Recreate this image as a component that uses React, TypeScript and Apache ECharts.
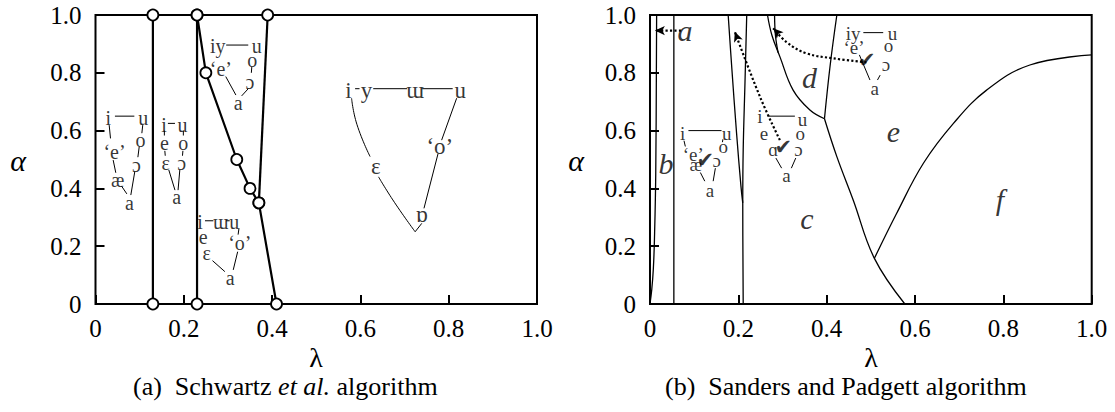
import React, { useEffect, useRef } from 'react';
import * as echarts from 'echarts';

const FONT = 'Liberation Serif';
const TICK_LABELS = ['0', '0.2', '0.4', '0.6', '0.8', '1.0'];

type Pt = [number, number];
type Lbl = [number, number, string];

// ---------- Panel (a): Schwartz et al. ----------
const A_BOUND_1: Pt[] = [[0.13, 0], [0.13, 1]];
const A_BOUND_2: Pt[] = [[0.23, 0], [0.23, 1]];
const A_BOUND_3: Pt[] = [[0.23, 1], [0.25, 0.8], [0.32, 0.5], [0.35, 0.4], [0.37, 0.35], [0.41, 0]];
const A_BOUND_4: Pt[] = [[0.39, 1], [0.37, 0.35]];

const A_VOWELS_1: Lbl[] = [[0.029, 0.642, 'i'], [0.108, 0.642, 'u'], [0.043, 0.527, '‘e’'], [0.102, 0.567, 'o'], [0.093, 0.481, 'ɔ'], [0.050, 0.429, 'æ'], [0.077, 0.348, 'a']];
const A_SEGS_1: Pt[][] = [
  [[0.044, 0.650], [0.088, 0.650]], [[0.031, 0.619], [0.034, 0.573]], [[0.040, 0.498], [0.046, 0.454]],
  [[0.059, 0.408], [0.071, 0.381]], [[0.107, 0.619], [0.105, 0.591]], [[0.099, 0.544], [0.096, 0.508]],
  [[0.089, 0.458], [0.080, 0.377]],
];
const A_VOWELS_2: Lbl[] = [[0.155, 0.619, 'i'], [0.197, 0.619, 'u'], [0.156, 0.556, 'e'], [0.199, 0.556, 'o'], [0.159, 0.487, 'ε'], [0.195, 0.487, 'ɔ'], [0.184, 0.371, 'a']];
const A_SEGS_2: Pt[][] = [
  [[0.164, 0.625], [0.180, 0.625]], [[0.156, 0.600], [0.156, 0.583]], [[0.199, 0.600], [0.199, 0.583]],
  [[0.157, 0.530], [0.158, 0.513]], [[0.198, 0.530], [0.197, 0.513]],
  [[0.166, 0.464], [0.180, 0.394]], [[0.191, 0.464], [0.187, 0.394]],
];
const A_VOWELS_3: Lbl[] = [[0.277, 0.894, 'iy'], [0.365, 0.894, 'u'], [0.284, 0.813, '‘e’'], [0.355, 0.844, 'o'], [0.350, 0.769, 'ɔ'], [0.323, 0.694, 'a']];
const A_SEGS_3: Pt[][] = [
  [[0.296, 0.896], [0.346, 0.896]], [[0.295, 0.787], [0.318, 0.723]], [[0.354, 0.82], [0.353, 0.80]],
  [[0.346, 0.745], [0.331, 0.72]],
];
const A_VOWELS_4: Lbl[] = [[0.237, 0.285, 'i'], [0.284, 0.285, 'ɯ'], [0.314, 0.285, 'u'], [0.244, 0.233, 'e'], [0.327, 0.210, '‘o’'], [0.252, 0.175, 'ε'], [0.305, 0.089, 'a']];
const A_SEGS_4: Pt[][] = [
  [[0.248, 0.288], [0.267, 0.288]], [[0.296, 0.288], [0.304, 0.288]], [[0.265, 0.150], [0.293, 0.112]],
  [[0.322, 0.181], [0.312, 0.118]], [[0.325, 0.262], [0.323, 0.24]],
];
const A_VOWELS_5: Lbl[] = [[0.573, 0.740, 'i'], [0.614, 0.740, 'y'], [0.724, 0.740, 'ɯ'], [0.826, 0.740, 'u'], [0.780, 0.544, '‘o’'], [0.635, 0.475, 'ε'], [0.739, 0.308, 'ɒ']];
const A_SEGS_5: Pt[][] = [
  [[0.588, 0.745], [0.598, 0.745]], [[0.629, 0.745], [0.706, 0.745]], [[0.740, 0.745], [0.809, 0.745]],
  [[0.744, 0.331], [0.776, 0.521]], [[0.784, 0.567], [0.818, 0.712]], [[0.724, 0.250], [0.739, 0.279]],
];
const A_CURVES_5: Pt[][] = [
  [[0.580, 0.712], [0.592, 0.622], [0.622, 0.510]],
  [[0.641, 0.440], [0.677, 0.352], [0.724, 0.250]],
];

// ---------- Panel (b): Sanders and Padgett ----------
const B_BOUNDS: Pt[][] = [
  [[0, 0], [0.004, 0.05], [0.0075, 0.12], [0.01, 0.22], [0.013, 0.45], [0.015, 1.0]],
  [[0.054, 0], [0.054, 1]],
  [[0.177, 1], [0.185, 0.821], [0.196, 0.591], [0.206, 0.406], [0.21, 0.35]],
  [[0.219, 1], [0.215, 0.764], [0.211, 0.533], [0.21, 0.35], [0.211, 0]],
  [[0.266, 1], [0.276, 0.93], [0.294, 0.856], [0.324, 0.74], [0.362, 0.671], [0.395, 0.641]],
  [[0.282, 1], [0.284, 0.93], [0.29, 0.87]],
  [[0.423, 1], [0.4075, 0.821], [0.395, 0.641]],
  [[0.395, 0.641], [0.423, 0.51], [0.46, 0.36], [0.508, 0.158], [0.577, 0]],
  [[0.508, 0.158], [0.5585, 0.314], [0.619, 0.487], [0.687, 0.625], [0.762, 0.740], [0.86, 0.827], [1.0, 0.862]],
];
const B_REGIONS: Lbl[] = [[0.079, 0.946, 'a'], [0.036, 0.487, 'b'], [0.355, 0.296, 'c'], [0.361, 0.784, 'd'], [0.551, 0.596, 'e'], [0.792, 0.36, 'f']];

const B_VOWELS: Lbl[] = [
  [0.074, 0.591, 'i'], [0.174, 0.591, 'u'], [0.098, 0.516, '‘e’'], [0.166, 0.544, 'o'], [0.151, 0.498, 'ɔ'], [0.104, 0.481, 'æ'], [0.136, 0.394, 'a'],
  [0.249, 0.648, 'i'], [0.345, 0.640, 'u'], [0.258, 0.591, 'e'], [0.340, 0.591, 'o'], [0.279, 0.533, 'ɑ'], [0.336, 0.533, 'ɔ'], [0.309, 0.446, 'a'],
  [0.46, 0.937, 'iy'], [0.549, 0.937, 'u'], [0.462, 0.888, '‘e’'], [0.54, 0.893, 'o'], [0.534, 0.830, 'ɔ'], [0.509, 0.746, 'a'],
];
const B_SEGS: Pt[][] = [
  [[0.087, 0.600], [0.162, 0.600]], [[0.077, 0.565], [0.08, 0.545]], [[0.114, 0.455], [0.124, 0.425]],
  [[0.148, 0.47], [0.143, 0.425]], [[0.165, 0.57], [0.164, 0.56]],
  [[0.268, 0.650], [0.328, 0.650]], [[0.285, 0.505], [0.298, 0.47]], [[0.33, 0.505], [0.32, 0.47]],
  [[0.483, 0.939], [0.528, 0.939]], [[0.474, 0.862], [0.498, 0.775]], [[0.521, 0.792], [0.515, 0.775]],
];
const B_CHECKS: Pt[] = [[0.125, 0.498], [0.302, 0.544], [0.491, 0.844]];
// dotted arrows: path points, the last point carries the head
const B_ARROW_PATHS: Pt[][] = [
  [[0.07, 0.946], [0.011, 0.946]],
  [[0.294, 0.567], [0.249, 0.717], [0.192, 0.942]],
  [[0.49, 0.836], [0.415, 0.850], [0.355, 0.867], [0.31, 0.905], [0.279, 0.954]],
];

function lineSeries(pts: Pt[], g: number, width: number, smooth: boolean | number = false, extra: any = {}) {
  return {
    type: 'line', xAxisIndex: g, yAxisIndex: g, data: pts, showSymbol: false, smooth,
    lineStyle: { color: '#000', width }, silent: true, z: 2, ...extra,
  };
}
function textSeries(items: Lbl[], g: number, size: number, italic = false, family = FONT) {
  return {
    type: 'scatter', xAxisIndex: g, yAxisIndex: g, symbolSize: 0, silent: true, z: 4,
    data: items.map(([x, y, t]) => ({ value: [x, y], name: t })),
    label: {
      show: true, position: 'inside', formatter: '{b}', color: '#000',
      fontFamily: family, fontSize: size, fontStyle: italic ? 'italic' : 'normal',
    },
  };
}

export default function App() {
  const ref = useRef<HTMLDivElement>(null);
  useEffect(() => {
    const chart = echarts.init(ref.current!, undefined, { renderer: 'svg' });
    const axisCommon = {
      type: 'value', min: 0, max: 1, interval: 0.2,
      splitLine: { show: false },
      axisLine: { show: false },
      axisTick: { show: true, inside: true, length: 9, lineStyle: { color: '#000', width: 2 } },
    };
    const fmt = (v: number) => TICK_LABELS[Math.round(v * 5)];
    const xLabel = { color: '#000', fontFamily: FONT, fontSize: 25, margin: 12, formatter: fmt };
    const yLabel = { color: '#000', fontFamily: FONT, fontSize: 25, margin: 14, formatter: fmt };

    const boundMarker = { symbol: 'circle', symbolSize: 11, showSymbol: true, itemStyle: { color: '#fff', borderColor: '#000', borderWidth: 1.8 }, z: 3 };

    const series: any[] = [
      lineSeries(A_BOUND_1, 0, 2.2, false, boundMarker),
      lineSeries(A_BOUND_2, 0, 2.2, false, boundMarker),
      lineSeries(A_BOUND_3, 0, 2.2, false, boundMarker),
      lineSeries(A_BOUND_4, 0, 2.2, false, boundMarker),
    ];
    [A_SEGS_1, A_SEGS_2, A_SEGS_3, A_SEGS_4, A_SEGS_5].forEach((segs) => segs.forEach((s) => series.push(lineSeries(s, 0, 1))));
    A_CURVES_5.forEach((c) => series.push(lineSeries(c, 0, 1, 0.5)));
    [A_VOWELS_1, A_VOWELS_2, A_VOWELS_3, A_VOWELS_4].forEach((v) => series.push(textSeries(v, 0, 20)));
    series.push(textSeries(A_VOWELS_5, 0, 23));

    B_BOUNDS.forEach((b) => series.push(lineSeries(b, 1, 1.3, 0.4)));
    B_SEGS.forEach((s) => series.push(lineSeries(s, 1, 1)));
    series.push(textSeries(B_VOWELS, 1, 19));
    series.push(textSeries(B_REGIONS, 1, 30, true));
    series.push(textSeries(B_CHECKS.map(([x, y]) => [x, y, '✔'] as Lbl), 1, 21, false, 'DejaVu Sans'));
    B_ARROW_PATHS.forEach((p) => {
      const n = p.length;
      const a = p[n - 2];
      const b = p[n - 1];
      const near: Pt = [b[0] + (a[0] - b[0]) * 0.05, b[1] + (a[1] - b[1]) * 0.05];
      series.push({
        type: 'line', xAxisIndex: 1, yAxisIndex: 1, data: p, showSymbol: false, smooth: 0.4, silent: true, z: 3,
        lineStyle: { color: '#000', width: 2.2, type: 'dotted' },
        markLine: {
          silent: true, symbol: ['none', 'arrow'], symbolSize: [7, 10], animation: false,
          label: { show: false },
          lineStyle: { color: '#000', width: 0, type: 'solid' },
          data: [[{ coord: near }, { coord: b }]],
          emphasis: { disabled: true },
        },
      });
    });

    chart.setOption({
      animation: false,
      grid: [
        { left: 95.5, top: 15, width: 441.5, height: 289, show: true, borderColor: '#000', borderWidth: 2, backgroundColor: 'transparent' },
        { left: 650, top: 15, width: 441.7, height: 289, show: true, borderColor: '#000', borderWidth: 2, backgroundColor: 'transparent' },
      ],
      xAxis: [
        { ...axisCommon, gridIndex: 0, axisLabel: xLabel },
        { ...axisCommon, gridIndex: 1, axisLabel: xLabel },
      ],
      yAxis: [
        { ...axisCommon, gridIndex: 0, axisLabel: yLabel },
        { ...axisCommon, gridIndex: 1, axisLabel: yLabel },
      ],
      graphic: [
        { type: 'text', x: 18, y: 160, style: { text: 'α', fontFamily: FONT, fontSize: 30, fontStyle: 'italic', fill: '#000', align: 'center', verticalAlign: 'middle' } },
        { type: 'text', x: 576, y: 160, style: { text: 'α', fontFamily: FONT, fontSize: 30, fontStyle: 'italic', fill: '#000', align: 'center', verticalAlign: 'middle' } },
        { type: 'text', x: 316, y: 357, style: { text: 'λ', fontFamily: FONT, fontSize: 28, fill: '#000', align: 'center', verticalAlign: 'middle' } },
        { type: 'text', x: 871, y: 357, style: { text: 'λ', fontFamily: FONT, fontSize: 28, fill: '#000', align: 'center', verticalAlign: 'middle' } },
        {
          type: 'text', x: 133, y: 386,
          style: {
            text: '(a)  Schwartz {i|et al.} algorithm', fontFamily: FONT, fontSize: 26, fill: '#000', verticalAlign: 'middle',
            rich: { i: { fontFamily: FONT, fontSize: 26, fontStyle: 'italic' } },
          },
        },
        { type: 'text', x: 665, y: 386, style: { text: '(b)  Sanders and Padgett algorithm', fontFamily: FONT, fontSize: 26, fill: '#000', verticalAlign: 'middle' } },
      ],
      series,
    });
    return () => chart.dispose();
  }, []);
  return <div ref={ref} style={{ position: 'absolute', left: 0, top: 0, width: 1115, height: 412, background: '#fff' }} />;
}
